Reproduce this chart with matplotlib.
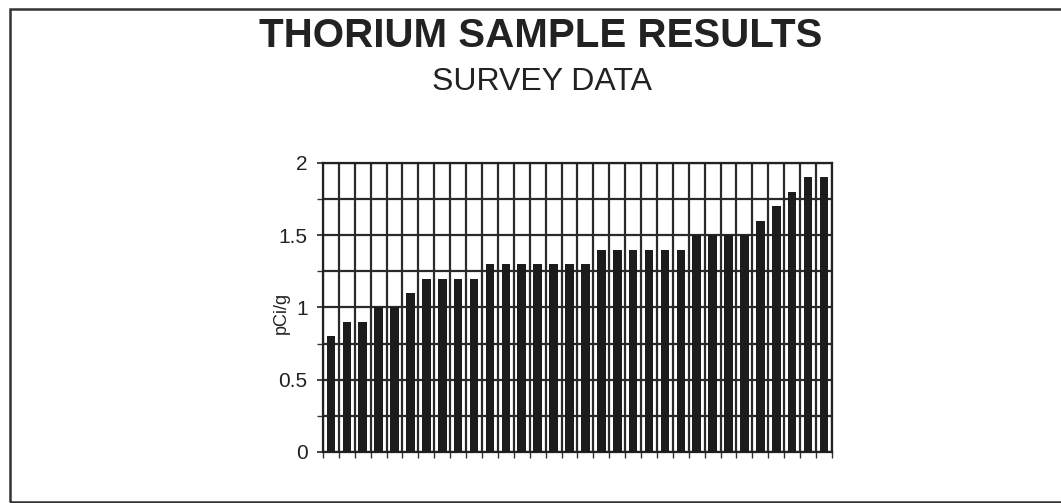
import numpy as np
import matplotlib
matplotlib.use("Agg")
import matplotlib.pyplot as plt
from matplotlib.patches import Rectangle

# thorium results, pCi/g, one bar per sample (sorted ascending as in the survey sheet)
values = [0.8, 0.9, 0.9, 1.0, 1.0, 1.1,
          1.2, 1.2, 1.2, 1.2,
          1.3, 1.3, 1.3, 1.3, 1.3, 1.3, 1.3,
          1.4, 1.4, 1.4, 1.4, 1.4, 1.4,
          1.5, 1.5, 1.5, 1.5,
          1.6, 1.7, 1.8, 1.9, 1.9]
yticks = [0, 0.5, 1, 1.5, 2]
ytick_labels = ["0", "0.5", "1", "1.5", "2"]

title = "THORIUM SAMPLE RESULTS"
subtitle = "SURVEY DATA"
ylabel = "pCi/g"

plt.rcParams['font.family'] = ['Liberation Sans', 'DejaVu Sans']

fig = plt.figure(figsize=(10.61, 5.03), dpi=100)
ax = fig.add_axes([0.3044, 0.1014, 0.4797, 0.5746])

n = len(values)
x = np.arange(n)
ax.bar(x, values, width=0.54, color='#1c1c1c', zorder=3)

ax.set_xlim(-0.5, n - 0.5)
ax.set_ylim(0, 2)

# grid: vertical line at every category boundary, horizontal every 0.25
ax.set_xticks(np.arange(-0.5, n, 1))
ax.set_xticklabels([])
ax.set_yticks(yticks)
ax.set_yticklabels(ytick_labels)
ax.set_yticks(np.arange(0, 2.01, 0.25), minor=True)
ax.grid(True, which='major', axis='x', color='#2a2a2a', linewidth=1.6, zorder=1)
ax.grid(True, which='both', axis='y', color='#2a2a2a', linewidth=1.6, zorder=1)
ax.set_axisbelow(True)

ax.tick_params(axis='x', direction='out', length=4, width=1, color='#333333')
ax.tick_params(axis='y', which='major', direction='out', length=4, width=1.2,
               labelsize=15, pad=7, colors='#222222')
ax.tick_params(axis='y', which='minor', direction='out', length=4, width=1, color='#333333')
for s in ax.spines.values():
    s.set_color('#222222')
    s.set_linewidth(1.6)

ax.set_ylabel(ylabel, fontsize=13, color='#222222')
ax.yaxis.set_label_coords(-0.066, 0.48)

fig.text(0.51, 1 - 47 / 503, title, ha='center', va='baseline', fontsize=29,
         fontweight='bold', color='#222222')
fig.text(0.511, 1 - 90 / 503, subtitle, ha='center', va='baseline', fontsize=23,
         color='#222222')

# border round the whole chart sheet (right edge runs off the scan)
fig.add_artist(Rectangle((0.0094, 0.002), 1.0, 0.98, transform=fig.transFigure,
                         fill=False, edgecolor='#333333', linewidth=1.8))

fig.savefig("out.png", dpi=100)
